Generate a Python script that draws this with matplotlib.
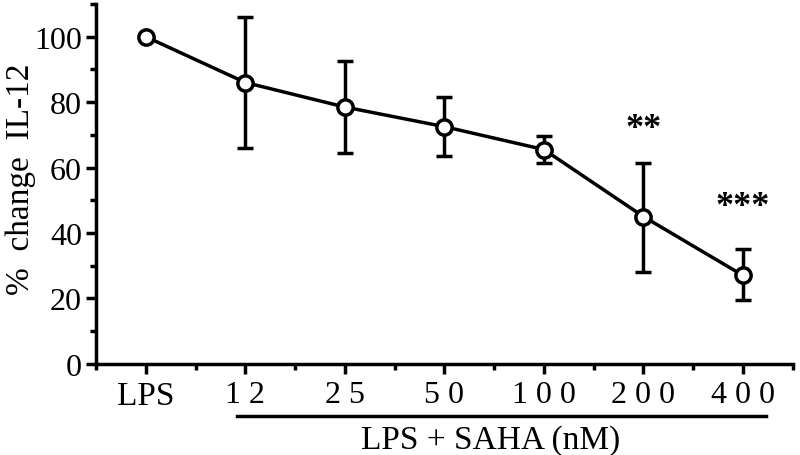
import matplotlib
matplotlib.use("Agg")
import matplotlib.pyplot as plt
from matplotlib.ticker import MultipleLocator

plt.rcParams['font.family'] = ['Liberation Serif', 'DejaVu Serif']

# data
groups = ["LPS", "12", "25", "50", "100", "200", "400"]
tick_text = ["LPS", "1 2", "2 5", "5 0", "1 0 0", "2 0 0", "4 0 0"]
mean = [100, 86, 78.5, 72.5, 65.5, 45, 27]
err_up = [0, 20, 14, 9, 4, 16.5, 8]
err_dn = [0, 20, 14, 9, 4, 17, 7.5]
stars = {5: "**", 6: "***"}
star_y = [None, None, None, None, None, 72, 48]

x = list(range(1, len(groups) + 1))

fig = plt.figure(figsize=(8, 4.56), dpi=100)
ax = fig.add_axes([0.12, 0.2, 0.871, 0.789])

ax.errorbar(x, mean, yerr=[err_dn, err_up], color='black', lw=2.5,
            elinewidth=2.5, capsize=6, capthick=2.5,
            marker='o', markersize=11, markerfacecolor='white',
            markeredgecolor='black', markeredgewidth=2.5, zorder=3)

for i, s in stars.items():
    ax.text(x[i], star_y[i], s, ha='center', va='center', fontsize=26,
            fontweight='bold')

ax.set_xlim(0.5, 7.5)
ax.set_ylim(0, 110)
ax.spines['top'].set_visible(False)
ax.spines['right'].set_visible(False)
for sp in ['left', 'bottom']:
    ax.spines[sp].set_linewidth(2.5)

ax.set_xticks(x)
ax.set_xticklabels(tick_text)
ax.xaxis.set_minor_locator(MultipleLocator(0.5))
ax.set_yticks([0, 20, 40, 60, 80, 100])
ax.yaxis.set_minor_locator(MultipleLocator(10))
ax.tick_params(axis='both', which='major', width=2.5, length=7, direction='out')
ax.tick_params(axis='both', which='minor', width=2.5, length=4, direction='out')
ax.tick_params(axis='y', labelsize=23, pad=3)
ax.tick_params(axis='x', labelsize=23, pad=5)
ax.get_xticklabels()[0].set_fontsize(24)

ax.set_ylabel("%  change  IL-12", fontsize=24)
ax.yaxis.set_label_coords(-0.086, 0.517)

# bracket line under the SAHA doses
trans = ax.get_xaxis_transform()
ax.plot([1.92, 7.23], [-0.144, -0.144], color='black', lw=2.5,
        transform=trans, clip_on=False)
ax.text(4.46, -0.21, "LPS + SAHA (nM)", transform=trans, ha='center',
        va='center', fontsize=24)

fig.savefig("out.png", dpi=100)
